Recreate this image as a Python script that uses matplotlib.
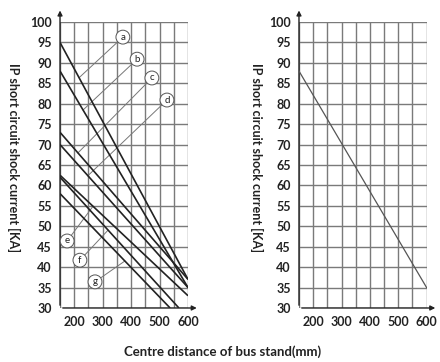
import matplotlib
matplotlib.use("Agg")
import matplotlib.pyplot as plt
import numpy as np

# ---- data ----
x_ticks_grid = list(range(150, 601, 50))
x_tick_labels = ["", "200", "", "300", "", "400", "", "500", "", "600"]
y_ticks = list(range(30, 101, 5))

line_names = ["a", "b", "c", "d", "e", "f", "g"]
line_x0 = [150, 150, 150, 150, 150, 150, 150]
line_y0 = [95, 88, 73, 70, 62.5, 62, 58]
line_x1 = [600, 600, 600, 600, 600, 568, 537]
line_y1 = [37, 35, 37, 35, 33, 30, 30]

# label circle positions and where their leaders meet the lines (x value)
label_x = [371, 421, 473, 526, 175, 220, 273]
label_y = [96.3, 90.9, 86.3, 80.9, 46.4, 41.7, 36.4]
leader_x = [217, 231, 213, 248, 266, 319, 378]

right_x = [150, 600]
right_y = [88, 35]

ylabel = "IP short circuit shock current [KA]"
xlabel = "Centre distance of bus stand(mm)"

FONT = "Lato"
plt.rcParams['font.family'] = [FONT, 'DejaVu Sans']

fig = plt.figure(figsize=(4.4, 3.62), dpi=100)
ax1 = fig.add_axes([0.1364, 0.1492, 0.2909, 0.790])
ax2 = fig.add_axes([0.6795, 0.1492, 0.2900, 0.790])

grid_col = "#7a7a7a"
for ax in (ax1, ax2):
    ax.set_xlim(150, 600)
    ax.set_ylim(30, 100)
    ax.set_xticks(x_ticks_grid)
    ax.set_xticklabels(x_tick_labels, fontsize=9, fontweight='bold', color="#222")
    ax.set_yticks(y_ticks)
    ax.set_yticklabels([str(v) for v in y_ticks], fontsize=9, fontweight='bold', color="#222")
    ax.tick_params(axis='y', length=0, pad=6)
    ax.tick_params(axis='x', length=0, pad=6)
    ax.grid(True, color=grid_col, linewidth=1.0)
    for s in ax.spines.values():
        s.set_visible(False)
    ax.set_axisbelow(True)
    # axis arrows
    ax.annotate("", xy=(0, 1.05), xytext=(0, 0), xycoords='axes fraction',
                arrowprops=dict(arrowstyle='-|>', color='#222', lw=1.0, mutation_scale=7),
                annotation_clip=False)
    ax.annotate("", xy=(1.09, 0), xytext=(0, 0), xycoords='axes fraction',
                arrowprops=dict(arrowstyle='-|>', color='#222', lw=1.0, mutation_scale=7),
                annotation_clip=False)

# left chart lines
for n, x0, y0, x1, y1 in zip(line_names, line_x0, line_y0, line_x1, line_y1):
    ax1.plot([x0, x1], [y0, y1], color="#222", lw=1.2, solid_capstyle='butt', zorder=3)

# leaders and label circles
for i, n in enumerate(line_names):
    x0, y0, x1, y1 = line_x0[i], line_y0[i], line_x1[i], line_y1[i]
    lx = leader_x[i]
    ly = y0 + (y1 - y0) * (lx - x0) / (x1 - x0)
    ax1.plot([label_x[i], lx], [label_y[i], ly], color="#777", lw=0.7, zorder=2)
    ax1.text(label_x[i], label_y[i], n, fontsize=7, ha='center', va='center', color="#222",
             bbox=dict(boxstyle='circle,pad=0.25', fc='white', ec='#555', lw=0.7), zorder=4)

# right chart line
ax2.plot(right_x, right_y, color="#555", lw=0.9, zorder=3)

fig.text(0.03, 0.565, ylabel, rotation=-90, ha='center', va='center', fontsize=9,
         fontweight='bold', color="#222")
fig.text(0.584, 0.565, ylabel, rotation=-90, ha='center', va='center', fontsize=9,
         fontweight='bold', color="#222")
fig.text(0.505, 0.028, xlabel, ha='center', va='center', fontsize=9.5,
         fontweight='bold', color="#222")

fig.savefig("out.png", dpi=100, facecolor='white')
